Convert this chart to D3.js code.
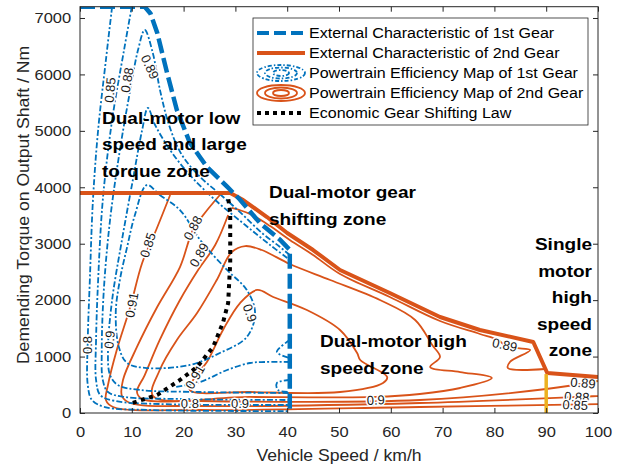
<!DOCTYPE html>
<html><head><meta charset="utf-8">
<script src="https://cdn.jsdelivr.net/npm/d3@7"></script>
<style>
html,body{margin:0;padding:0;background:#fff;}
svg{display:block;font-family:"Liberation Sans",Arial,Helvetica,sans-serif;}
</style></head><body>
<svg id="c" width="625" height="468"></svg>
<script>
// ---------------- data ----------------
const speedTicks = [0,10,20,30,40,50,60,70,80,90,100];
const torqueTicks = [0,1000,2000,3000,4000,5000,6000,7000];

// external characteristics [speed km/h, torque Nm]
const ext1st = [[0,7200],[12.5,7200],[13.6,7080],[14.9,6740],[16.8,6030],[18.7,5370],[21.2,4790],[24.5,4360],[28.4,4010],[30.9,3780],[34.7,3370],[38.6,3070],[40.5,2890],[40.5,0]];
const ext2nd = [[0,3900],[29.0,3898],[31.5,3774],[36.1,3473],[40.0,3190],[45.0,2888],[50.2,2534],[59.8,2126],[69.5,1701],[77.2,1471],[87.5,1258],[90.2,709],[100,638]];
const singleMotorLine = [[90,0],[90,690]];
const shiftLaw = [[10.2,180],[14.9,320],[19.3,585],[22.6,815],[25.7,1170],[27.6,1600],[28.6,1950],[29,2660],[29,3550],[28.6,3810]];

// 1st gear efficiency contours
const g1_080 = [[6.2,7200],[5.0,6255],[3.5,5015],[2.5,3774],[1.9,2357],[1.5,1294],[1.5,496],[2.3,230],[4.8,106],[13.5,53],[40.5,35]];
const g1_085 = [[10.0,7200],[8.5,6432],[6.2,5192],[4.4,3774],[3.5,2357],[3.1,1294],[3.1,585],[3.9,319],[6.8,213],[15.4,159],[40.5,142]];
const g1_088 = [[40.5,2800],[38.5,2950],[35,3200],[31,3550],[27,3880],[23,4200],[19.5,4600],[17.2,5100],[15.5,5700],[14.0,6400],[12.5,6787],[11.2,6432],[9.7,5724],[7.7,4660],[5.8,3420],[4.6,2180],[4.2,1116],[4.4,585],[5.4,372],[8.7,284],[19.3,248],[40.5,230]];
const g1_089 = [[40.0,2747],[36.7,2977],[31.9,3331],[26.1,3774],[21.2,4218],[17.4,4660],[14.5,5104],[13.1,5405],[12.0,5015],[10.2,4129],[8.1,3066],[6.2,2002],[5.4,1116],[5.8,673],[7.3,496],[11.6,408],[23.2,372],[40.5,354]];
const g1_090 = [[12.9,4040],[15.4,3863],[19.3,3597],[23.2,3066],[28.4,2534],[32.2,2180],[33.8,1772],[32.2,1347],[27.0,1063],[21.2,851],[12.9,797],[9.1,886],[7.5,1170],[6.9,1772],[7.7,2357],[9.1,2942],[10.6,3509]];
const g1_s1 = [[40.5,1294],[38.0,1081],[40.5,975]];
const g1_s2 = [[40.5,904],[35.7,904],[32.8,886],[28.4,762],[23.2,550],[18.3,461]];
const g1_s3 = [[40.5,585],[38.0,532],[38.2,408],[40.5,372]];

// 2nd gear efficiency contours
const g2_085 = [[17.4,3863],[14.7,3243],[12.0,2658],[9.7,1878],[7.1,1116],[5.4,496],[5.0,230],[6.4,106],[23.2,53],[65.6,106],[100,159]];
const g2_088 = [[27.0,3863],[24.1,3544],[21.8,3243],[19.3,2587],[14.9,1878],[11.0,1170],[8.3,585],[8.1,301],[9.7,177],[23.2,124],[65.6,177],[100,301]];
const g2_089a = [[28.6,3509],[26.1,2977],[22.8,2534],[19.3,2002],[15.4,1294],[12.5,673],[11.0,372],[12.0,248],[23.2,213],[65.6,230],[90,425],[100,567]];
const g2_089b = [[29.3,3633],[32.8,3526],[36.7,3314],[40.5,3066],[45.0,2800],[50.2,2463],[59.8,2056],[69.5,1630],[77.2,1400],[80.7,1294],[82.0,1205],[84.0,1152],[86.9,1116],[83.0,904],[82.6,797],[89.8,780]];
const g2_090 = [[14.1,301],[15.4,762],[18.7,1294],[22.6,1772],[26.4,2357],[29.3,2853],[31.9,2959],[35.1,2888],[40.5,2640],[48.3,2357],[57.9,2002],[64.7,1648],[68.0,1205],[69.5,992],[67.6,815],[73.4,726],[79.5,620],[73.4,443],[65.6,337],[57.1,284],[32.8,284]];
const g2_091 = [[21.2,408],[22.2,638],[24.5,904],[27.6,1471],[30.9,1949],[34.2,2180],[37.3,2056],[43.8,1825],[50.2,1471],[53.5,1063],[54.1,939],[59.3,638],[58.5,532],[50.2,372],[32.8,372]];

// contour labels [speed, torque, text]
const g1Labels = [[5.8,5724,"0.85"],[9.1,5901,"0.88"],[13.5,6131,"0.89"],[1.5,1205,"0.8"],[5.7,1300,"0.9"],[32.8,1772,"0.9"],[21.2,175,"0.8"],[30.9,175,"0.9"]];
const g1LabelAngles = [-85,-80,65,-90,-85,70,0,0];
const g2Labels = [[13.1,2977,"0.85"],[21.8,3280,"0.88"],[23.0,2800,"0.89"],[10.0,1913,"0.91"],[22.2,638,"0.91"],[57.1,230,"0.9"],[82.0,1205,"0.89"],[97.1,532,"0.89"],[95.9,284,"0.88"],[95.6,142,"0.85"]];
const g2LabelAngles = [-72,-62,-60,-80,-60,-3,12,5,3,3];

const legendLabels = ["External Characteristic of 1st Gear","External Characteristic of 2nd Gear","Powertrain Efficiency Map of 1st Gear","Powertrain Efficiency Map of 2nd Gear","Economic Gear Shifting Law"];

// ---------------- drawing ----------------
const BLUE="#0072BD", ORANGE="#D95319", YELLOW="#EDB120", AX="#262626";
const SX=1.1;
const svg=d3.select("#c");
const L=80,R=598,T=6.7,B=413;
const x=d3.scaleLinear().domain([0,100]).range([L,R]);
const y=d3.scaleLinear().domain([0,7200]).range([B,T]);

svg.append("defs").append("clipPath").attr("id","clip")
  .append("rect").attr("x",L).attr("y",T).attr("width",R-L).attr("height",B-T);

const plot=svg.append("g").attr("clip-path","url(#clip)");
const lineOpen=d3.line().x(d=>x(d[0])).y(d=>y(d[1])).curve(d3.curveCatmullRom.alpha(0.5));
const lineClosed=d3.line().x(d=>x(d[0])).y(d=>y(d[1])).curve(d3.curveCatmullRomClosed.alpha(0.5));
const lineLin=d3.line().x(d=>x(d[0])).y(d=>y(d[1]));

const g1Open=[g1_080,g1_085,g1_088,g1_089,g1_s1,g1_s2,g1_s3];
const g1Closed=[g1_090];
const g2Open=[g2_085,g2_088,g2_089a,g2_089b];
const g2Closed=[g2_090,g2_091];

const BW=1.8, OW=1.8, BDASH="6,2.2,2,2.2";
g2Open.forEach(c=>plot.append("path").attr("d",lineOpen(c)).attr("fill","none").attr("stroke",ORANGE).attr("stroke-width",OW));
g2Closed.forEach(c=>plot.append("path").attr("d",lineClosed(c)).attr("fill","none").attr("stroke",ORANGE).attr("stroke-width",OW));
g1Open.forEach(c=>plot.append("path").attr("d",lineOpen(c)).attr("fill","none").attr("stroke",BLUE).attr("stroke-width",BW).attr("stroke-dasharray",BDASH));
g1Closed.forEach(c=>plot.append("path").attr("d",lineClosed(c)).attr("fill","none").attr("stroke",BLUE).attr("stroke-width",BW).attr("stroke-dasharray",BDASH));

// contour labels
function contourLabel(d,a){
  plot.append("text").attr("transform",`translate(${x(d[0])},${y(d[1])}) rotate(${a})`)
    .attr("text-anchor","middle").attr("dy","0.35em")
    .attr("font-size",13).attr("fill","#1a1a1a")
    .attr("stroke","#fff").attr("stroke-width",3).attr("paint-order","stroke")
    .text(d[2]);
}
g1Labels.forEach((d,i)=>contourLabel(d,g1LabelAngles[i]));
g2Labels.forEach((d,i)=>contourLabel(d,g2LabelAngles[i]));

// externals
plot.append("path").attr("d",lineLin(ext2nd)).attr("fill","none").attr("stroke",ORANGE).attr("stroke-width",4).attr("stroke-linejoin","round");
plot.append("path").attr("d",lineLin(ext1st)).attr("fill","none").attr("stroke",BLUE).attr("stroke-width",4.5).attr("stroke-dasharray","15,5");
plot.append("path").attr("d",lineLin(singleMotorLine)).attr("fill","none").attr("stroke",YELLOW).attr("stroke-width",3.5);
plot.append("path").attr("d",lineLin(shiftLaw)).attr("fill","none").attr("stroke","#000").attr("stroke-width",4).attr("stroke-dasharray","4,4.5");

// axes
const fmt=d3.format("d");
const xAxis=d3.axisBottom(x).tickValues(speedTicks).tickFormat(fmt).tickSizeInner(-5).tickSizeOuter(0).tickPadding(13.5);
const yAxis=d3.axisLeft(y).tickValues(torqueTicks).tickFormat(fmt).tickSizeInner(-5).tickSizeOuter(0).tickPadding(8);
const gx=svg.append("g").attr("transform",`translate(0,${B})`).call(xAxis);
const gy=svg.append("g").attr("transform",`translate(${L},0)`).call(yAxis);
const gxt=svg.append("g").attr("transform",`translate(0,${T})`).call(d3.axisTop(x).tickValues(speedTicks).tickSizeInner(-5).tickSizeOuter(0).tickFormat(""));
const gyr=svg.append("g").attr("transform",`translate(${R},0)`).call(d3.axisRight(y).tickValues(torqueTicks).tickSizeInner(-5).tickSizeOuter(0).tickFormat(""));
[gx,gy,gxt,gyr].forEach(g=>{
  g.select(".domain").remove();
  g.selectAll("line").attr("stroke",AX);
  g.selectAll("text").attr("font-size",15).attr("fill",AX).attr("font-family","Liberation Sans, Arial, sans-serif").attr("transform",`scale(${SX},1)`);
});
svg.append("rect").attr("x",L).attr("y",T).attr("width",R-L).attr("height",B-T).attr("fill","none").attr("stroke",AX).attr("stroke-width",1);

function stext(px,py,str,size,opts={}){
  return svg.append("text").attr("transform",`translate(${px},${py})${opts.rot?` rotate(${opts.rot})`:""} scale(${SX},1)`)
    .attr("font-size",size).attr("fill",opts.fill||"#000").attr("text-anchor",opts.anchor||"start")
    .attr("font-weight",opts.bold?"bold":"normal").text(str);
}
stext((L+R)/2,461,"Vehicle Speed / km/h",16,{anchor:"middle",fill:AX});
stext(29,205,"Demending Torque on Output Shaft / Nm",16,{anchor:"middle",fill:AX,rot:-90});

// annotations
const annSize=17.3;
stext(102,124,"Dual-motor low",annSize,{bold:true});
stext(102,150,"speed and large",annSize,{bold:true});
stext(102,177,"torque zone",annSize,{bold:true});
stext(269,198,"Dual-motor gear",annSize,{bold:true});
stext(269,225,"shifting zone",annSize,{bold:true});
stext(320,347,"Dual-motor high",annSize,{bold:true});
stext(320,374,"speed zone",annSize,{bold:true});
["Single","motor","high","speed","zone"].forEach((s,i)=>stext(592,250+i*26.5,s,annSize,{bold:true,anchor:"end"}));

// legend
const lg=svg.append("g");
lg.append("rect").attr("x",253).attr("y",18).attr("width",335).attr("height",107).attr("fill","#fff").attr("stroke",AX).attr("stroke-width",0.8);
const rowY=[33,53,73,93,113];
lg.append("line").attr("x1",257).attr("x2",305).attr("y1",rowY[0]).attr("y2",rowY[0]).attr("stroke",BLUE).attr("stroke-width",4).attr("stroke-dasharray","12,5");
lg.append("line").attr("x1",257).attr("x2",305).attr("y1",rowY[1]).attr("y2",rowY[1]).attr("stroke",ORANGE).attr("stroke-width",4);
[[24,8],[16,5.5],[8,3]].forEach(r=>{
  lg.append("ellipse").attr("cx",281).attr("cy",rowY[2]).attr("rx",r[0]).attr("ry",r[1]).attr("fill","none").attr("stroke",BLUE).attr("stroke-width",1.8).attr("stroke-dasharray","4,2,1.5,2");
  lg.append("ellipse").attr("cx",281).attr("cy",rowY[3]).attr("rx",r[0]).attr("ry",r[1]).attr("fill","none").attr("stroke",ORANGE).attr("stroke-width",1.8);
});
lg.append("line").attr("x1",257).attr("x2",305).attr("y1",rowY[4]).attr("y2",rowY[4]).attr("stroke","#000").attr("stroke-width",4).attr("stroke-dasharray","4,4");
legendLabels.forEach((s,i)=>stext(309,rowY[i]+5,s,14.6,{fill:"#000"}));
</script>
</body></html>
